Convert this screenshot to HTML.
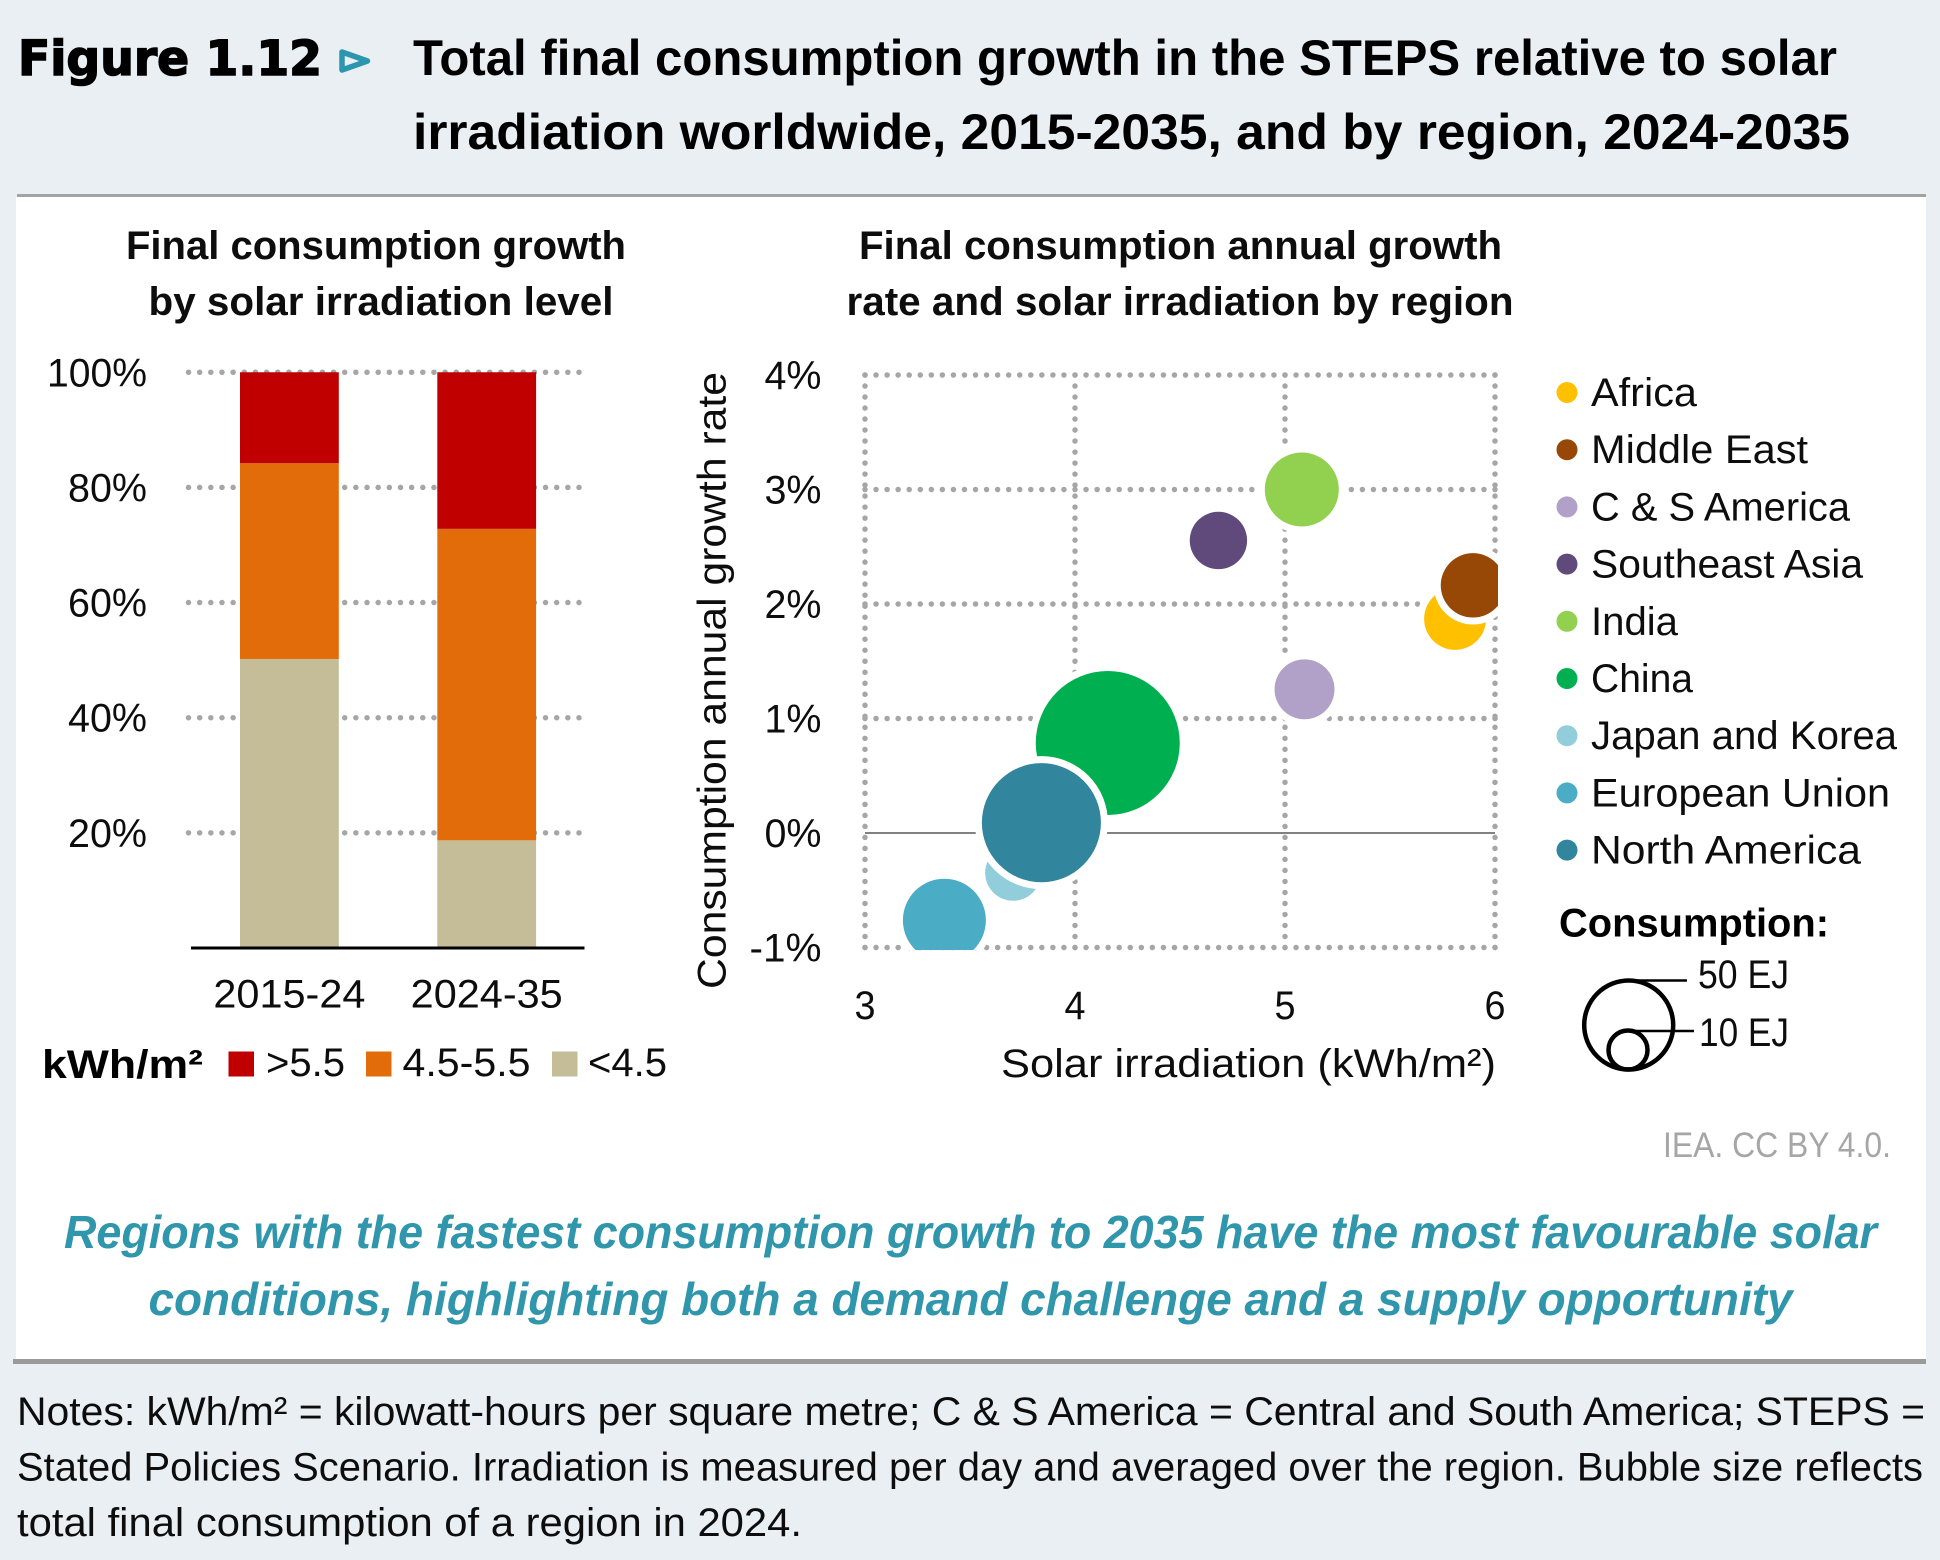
<!DOCTYPE html>
<html lang="en">
<head>
<meta charset="utf-8">
<title>Figure 1.12 Total final consumption growth relative to solar irradiation</title>
<style>
html,body{margin:0;padding:0;background:#eaeff4;width:1940px;height:1560px;overflow:hidden}
svg{display:block}
text{font-family:"Liberation Sans",sans-serif;fill:#0d0d0d}
.b{font-weight:700}
</style>
</head>
<body>
<svg id="fig" xmlns="http://www.w3.org/2000/svg" width="1940" height="1560" viewBox="0 0 1940 1560">
  <defs>
    <clipPath id="plotClip"><rect x="858" y="366" width="640" height="584"/></clipPath>
  </defs>
  <rect x="0" y="0" width="1940" height="1560" fill="#eaeff4"/>
  <rect x="16" y="197" width="1910" height="1163" fill="#ffffff"/>
  <rect x="17" y="194" width="1909" height="3" fill="#a3a3a3"/>
  <rect x="13" y="1359" width="1913" height="5" fill="#9a9a9a"/>

  <text x="18" y="75" font-size="48" font-weight="700" textLength="304" lengthAdjust="spacingAndGlyphs" stroke="#000" stroke-width="1.6" style="font-family:'DejaVu Sans',sans-serif;fill:#000">Figure 1.12</text>
  <polygon points="342,52 342,70 367.5,61" fill="none" stroke="#2b96ae" stroke-width="5.5" stroke-linejoin="round"/>
  <text class="b" x="413" y="75" font-size="50" textLength="1424" lengthAdjust="spacingAndGlyphs" style="fill:#000">Total final consumption growth in the STEPS relative to solar</text>
  <text class="b" x="413" y="149" font-size="50" textLength="1437" lengthAdjust="spacingAndGlyphs" style="fill:#000">irradiation worldwide, 2015-2035, and by region, 2024-2035</text>

  <text class="b" x="126" y="259" font-size="40" textLength="500" lengthAdjust="spacingAndGlyphs">Final consumption growth</text>
  <text class="b" x="148.5" y="315" font-size="40" textLength="465" lengthAdjust="spacingAndGlyphs">by solar irradiation level</text>
  <text class="b" x="859" y="259" font-size="40" textLength="643" lengthAdjust="spacingAndGlyphs">Final consumption annual growth</text>
  <text class="b" x="846.5" y="315" font-size="40" textLength="667" lengthAdjust="spacingAndGlyphs">rate and solar irradiation by region</text>

  <g id="barChart"></g>
  <g id="bubbleChart"></g>
  <g id="regionLegend"></g>

  <text transform="translate(725.5,989) rotate(-90)" x="0" y="0" font-size="40" textLength="617" lengthAdjust="spacingAndGlyphs">Consumption annual growth rate</text>
  <text x="1001" y="1077" font-size="40" textLength="495" lengthAdjust="spacingAndGlyphs">Solar irradiation (kWh/m²)</text>

  <g>
    <text class="b" x="42" y="1078" font-size="40" textLength="161" lengthAdjust="spacingAndGlyphs" style="fill:#000">kWh/m²</text>
    <rect x="228.5" y="1051.5" width="25.5" height="25" fill="#c00000"/>
    <text x="266" y="1076" font-size="40" textLength="79" lengthAdjust="spacingAndGlyphs">&gt;5.5</text>
    <rect x="366" y="1051.5" width="25.5" height="25" fill="#e36c0a"/>
    <text x="402.5" y="1076" font-size="40" textLength="128" lengthAdjust="spacingAndGlyphs">4.5-5.5</text>
    <rect x="552" y="1051.5" width="25.5" height="25" fill="#c4bd97"/>
    <text x="588" y="1076" font-size="40" textLength="79" lengthAdjust="spacingAndGlyphs">&lt;4.5</text>
  </g>

  <g>
    <text class="b" x="1559" y="936.5" font-size="40" textLength="270" lengthAdjust="spacingAndGlyphs" style="fill:#000">Consumption:</text>
    <circle cx="1628.7" cy="1025" r="44.5" fill="none" stroke="#000" stroke-width="4.5"/>
    <circle cx="1628" cy="1050" r="19.5" fill="none" stroke="#000" stroke-width="4.5"/>
    <line x1="1627" y1="980.5" x2="1687" y2="980.5" stroke="#000" stroke-width="2.5"/>
    <line x1="1627" y1="1031" x2="1694" y2="1031" stroke="#000" stroke-width="2.5"/>
    <text x="1698" y="988" font-size="40" textLength="91" lengthAdjust="spacingAndGlyphs">50 EJ</text>
    <text x="1699" y="1046" font-size="40" textLength="90" lengthAdjust="spacingAndGlyphs">10 EJ</text>
  </g>

  <text x="1663" y="1157" font-size="35" textLength="228" lengthAdjust="spacingAndGlyphs" style="fill:#a6a6a6">IEA. CC BY 4.0.</text>

  <text class="b" x="64" y="1248" font-size="46" font-style="italic" textLength="1813" lengthAdjust="spacingAndGlyphs" style="fill:#2f96ac">Regions with the fastest consumption growth to 2035 have the most favourable solar</text>
  <text class="b" x="148.5" y="1315" font-size="46" font-style="italic" textLength="1644" lengthAdjust="spacingAndGlyphs" style="fill:#2f96ac">conditions, highlighting both a demand challenge and a supply opportunity</text>

  <text x="17" y="1425" font-size="40" textLength="1908" lengthAdjust="spacingAndGlyphs">Notes: kWh/m² = kilowatt-hours per square metre; C &amp; S America = Central and South America; STEPS =</text>
  <text x="17" y="1480.5" font-size="40" textLength="1906" lengthAdjust="spacingAndGlyphs">Stated Policies Scenario. Irradiation is measured per day and averaged over the region. Bubble size reflects</text>
  <text x="17" y="1536" font-size="40" textLength="785" lengthAdjust="spacingAndGlyphs">total final consumption of a region in 2024.</text>
</svg>

<script>
// ---- stacked bar data (percent share of growth) ----
const barCategories = ['2015-24', '2024-35'];
const shareLow = [50.2, 18.7];
const shareMid = [34.0, 54.1];
const shareHigh = [15.8, 27.2];
const barTicks = [20, 40, 60, 80, 100];
const barTickLabels = ['20%', '40%', '60%', '80%', '100%'];

// ---- bubble data ----
const regions = ['Africa', 'Middle East', 'C & S America', 'Southeast Asia', 'India', 'China', 'Japan and Korea', 'European Union', 'North America'];
const irradiation = [5.81, 5.895, 5.093, 4.683, 5.08, 4.156, 3.705, 3.378, 3.84];
const growthRate = [1.87, 2.163, 1.255, 2.555, 3.0, 0.786, -0.348, -0.762, 0.09];
const consumptionEJ = [23.7, 25.6, 22.2, 20.3, 33.8, 128, 19.2, 42.5, 87.5];
const xTicks = [3, 4, 5, 6];
const xTickLabels = ['3', '4', '5', '6'];
const yTicks = [-1, 0, 1, 2, 3, 4];
const yTickLabels = ['-1%', '0%', '1%', '2%', '3%', '4%'];

const regionColors = ['#ffc000', '#974706', '#b1a0c7', '#604a7b', '#92d050', '#00b050', '#92cddc', '#4bacc6', '#31859c'];
const regionLabelWidths = [106, 217, 259, 272, 87, 102, 306, 299, 270];
const barColors = ['#c4bd97', '#e36c0a', '#c00000'];

const NS = 'http://www.w3.org/2000/svg';
function el(tag, attrs, parent) {
  const n = document.createElementNS(NS, tag);
  for (const k in attrs) n.setAttribute(k, attrs[k]);
  parent.appendChild(n);
  return n;
}
// dotted line style: dots land on both ends of the run
function dots(len, count) {
  return '0 ' + (len / count);
}

// ---- axis functions ----
const barY = v => 948 - v * 5.7575;
const barX = i => 240 + i * 197.3;
const barW = 98.8;
const bubX = v => 865 + (v - 3) * 210;
const bubY = v => 833 - v * 114.5;
const bubR = ej => 45 * Math.sqrt(ej / 50);

// ---- stacked bars ----
const barRoot = document.getElementById('barChart');
const barTickWidths = [79, 79, 79, 79, 100];
barTicks.forEach((t, i) => {
  const g = el('line', {x1: 188.5, x2: 579.5, y1: barY(t), y2: barY(t), stroke: '#a6a6a6', 'stroke-width': 5.5, 'stroke-linecap': 'round', 'stroke-dasharray': dots(390.5, 35)}, barRoot);
  
  
  const lab = el('text', {x: 147, y: barY(t) + 14, 'font-size': 40, 'text-anchor': 'end', textLength: barTickWidths[i], lengthAdjust: 'spacingAndGlyphs'}, barRoot);
  
  
  lab.textContent = barTickLabels[i];
});
barCategories.forEach((c, i) => {
  const parts = [shareLow[i], shareMid[i], shareHigh[i]];
  let base = 0;
  parts.forEach((p, j) => {
    const r = el('rect', {x: barX(i), y: barY(base + p), width: barW, height: barY(base) - barY(base + p), fill: barColors[j]}, barRoot);
    
    
    base += p;
  });
  const lab = el('text', {x: barX(i) + barW / 2, y: 1007.5, 'font-size': 40, 'text-anchor': 'middle', textLength: 152, lengthAdjust: 'spacingAndGlyphs'}, barRoot);
  
  
  lab.textContent = c;
});
const baseLine = el('line', {x1: 191, x2: 584.5, y1: barY(0), y2: barY(0), stroke: '#000', 'stroke-width': 3}, barRoot);



// ---- bubble chart ----
const bubRoot = document.getElementById('bubbleChart');
const yTickWidths = [72, 57, 57, 57, 57, 57];
const plotW = bubX(6) - bubX(3);
const plotH = bubY(-1) - bubY(4);
yTicks.forEach((t, i) => {
  if (t !== 0) {
    const g = el('line', {x1: bubX(3), x2: bubX(6) + 0.5, y1: bubY(t), y2: bubY(t), stroke: '#a6a6a6', 'stroke-width': 5.5, 'stroke-linecap': 'round', 'stroke-dasharray': dots(plotW, 57)}, bubRoot);
    
    
  }
  const lab = el('text', {x: 821.5, y: bubY(t) + 14, 'font-size': 40, 'text-anchor': 'end', textLength: yTickWidths[i], lengthAdjust: 'spacingAndGlyphs'}, bubRoot);
  
  
  lab.textContent = yTickLabels[i];
});
xTicks.forEach((t, i) => {
  const g = el('line', {x1: bubX(t), x2: bubX(t), y1: bubY(4), y2: bubY(-1) + 0.5, stroke: '#a6a6a6', 'stroke-width': 5.5, 'stroke-linecap': 'round', 'stroke-dasharray': dots(plotH, 52)}, bubRoot);
  
  
  const lab = el('text', {x: bubX(t), y: 1019, 'font-size': 40, 'text-anchor': 'middle', textLength: 21, lengthAdjust: 'spacingAndGlyphs'}, bubRoot);
  
  
  lab.textContent = xTickLabels[i];
});
const zeroLine = el('line', {x1: bubX(3), x2: bubX(6), y1: bubY(0), y2: bubY(0), stroke: '#6f6f6f', 'stroke-width': 1.8}, bubRoot);


const bubClip = el('g', {'clip-path': 'url(#plotClip)'}, bubRoot);


regions.forEach((name, i) => {
  const c = el('circle', {cx: bubX(irradiation[i]), cy: bubY(growthRate[i]), r: bubR(consumptionEJ[i]), fill: regionColors[i], stroke: '#ffffff', 'stroke-width': 14, 'paint-order': 'stroke'}, bubClip);
  
  
});

// ---- region legend ----
const legRoot = document.getElementById('regionLegend');
regions.forEach((name, i) => {
  const cy = 392.5 + i * 57.2;
  const m = el('circle', {cx: 1567, cy: cy, r: 10.5, fill: regionColors[i]}, legRoot);
  
  
  const t = el('text', {x: 1591, y: cy + 13.5, 'font-size': 40, textLength: regionLabelWidths[i], lengthAdjust: 'spacingAndGlyphs'}, legRoot);
  
  
  t.textContent = name;
});
</script>
</body>
</html>
